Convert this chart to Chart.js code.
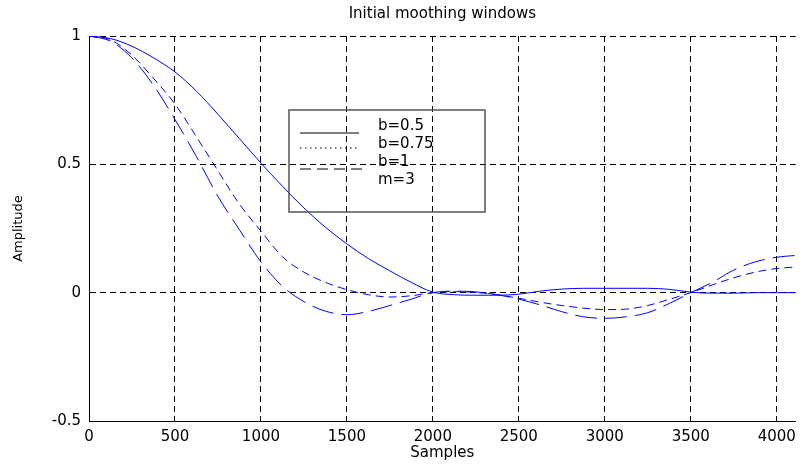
<!DOCTYPE html>
<html>
<head>
<meta charset="utf-8">
<script src="https://cdn.jsdelivr.net/npm/chart.js@4/dist/chart.umd.min.js"></script>
<style>
  html, body { margin: 0; padding: 0; background: #fff; }
</style>
</head>
<body>
<canvas id="windowsChart" width="803" height="466"></canvas>
<script>
// valeurs

const samples = [0, 125, 250, 375, 500, 625, 750, 875, 1000, 1125, 1250, 1375, 1500, 1625, 1750, 1875,
  2000, 2125, 2250, 2375, 2500, 2625, 2750, 2875, 3000, 3125, 3250, 3375, 3500, 3625, 3750, 3875, 4000, 4110];

const windowB05 = [1, 0.99, 0.96, 0.915, 0.86, 0.785, 0.695, 0.6, 0.505, 0.415, 0.33, 0.255, 0.19, 0.133, 0.085, 0.04,
  0.002, -0.008, -0.01, -0.01, -0.006, 0.006, 0.014, 0.017, 0.017, 0.017, 0.017, 0.013, 0.002, -0.002, -0.002, 0, 0, 0];

const windowB075 = [1, 0.985, 0.925, 0.835, 0.735, 0.607, 0.475, 0.345, 0.24, 0.14, 0.08, 0.04, 0.012, -0.008, -0.017, -0.012,
  0, 0.004, 0.001, -0.008, -0.022, -0.037, -0.05, -0.06, -0.066, -0.064, -0.05, -0.026, 0, 0.03, 0.058, 0.08, 0.094, 0.1];

const windowB1 = [1, 0.98, 0.914, 0.808, 0.675, 0.53, 0.375, 0.245, 0.12, 0.025, -0.035, -0.072, -0.086, -0.073, -0.05, -0.025,
  0, 0.006, 0.003, -0.008, -0.025, -0.048, -0.074, -0.094, -0.1, -0.094, -0.078, -0.042, 0, 0.04, 0.088, 0.12, 0.138, 0.145];

const seriesLabels = ["b=0.5", "b=0.75", "b=1"];
const legendExtra = "m=3";

const xTicks = [0, 500, 1000, 1500, 2000, 2500, 3000, 3500, 4000];
const yTicks = [-0.5, 0, 0.5, 1];

const toPoints = (values) => values.map((v, i) => ({ x: samples[i], y: v }));

const fontFamily = "'DejaVu Sans', 'Liberation Sans', Arial, sans-serif";

// légende dessinée dans le graphe, traits noirs comme sur la figure
const legendBox = {
  id: "legendBox",
  afterDatasetsDraw(chart) {
    const { ctx, chartArea } = chart;
    const left = chartArea.left + 200;
    const top = chartArea.top + 74;
    ctx.save();
    ctx.strokeStyle = "#555";
    ctx.lineWidth = 1.5;
    ctx.strokeRect(left, top, 196, 102);

    const styles = [
      { dash: [], y: 23, x2: 70 },
      { dash: [1.5, 3.5], y: 38, x2: 68 },
      { dash: [11, 6], y: 59, x2: 78 }
    ];
    ctx.strokeStyle = "#000";
    ctx.lineWidth = 1;
    styles.forEach((s) => {
      ctx.setLineDash(s.dash);
      ctx.beginPath();
      ctx.moveTo(left + 11, top + s.y);
      ctx.lineTo(left + s.x2, top + s.y);
      ctx.stroke();
    });
    ctx.setLineDash([]);

    ctx.fillStyle = "#000";
    ctx.font = "15px " + fontFamily;
    ctx.textBaseline = "middle";
    ctx.textAlign = "left";
    [...seriesLabels, legendExtra].forEach((txt, i) => {
      ctx.fillText(txt, left + 89, top + 16 + i * 18);
    });
    ctx.restore();
  }
};

const gridStyle = {
  color: "#000",
  lineWidth: 1,
  drawTicks: false
};

new Chart(document.getElementById("windowsChart"), {
  type: "line",
  data: {
    datasets: [
      { label: seriesLabels[0], data: toPoints(windowB05), borderDash: [] },
      { label: seriesLabels[1], data: toPoints(windowB075), borderDash: [8, 5] },
      { label: seriesLabels[2], data: toPoints(windowB1), borderDash: [22, 8] }
    ].map((d) => ({
      ...d,
      borderColor: "#0000ff",
      borderWidth: 1,
      pointRadius: 0,
      fill: false,
      cubicInterpolationMode: "monotone"
    }))
  },
  options: {
    responsive: false,
    animation: false,
    layout: { padding: { left: 0, right: 7, top: 0, bottom: 0 } },
    plugins: {
      legend: { display: false },
      tooltip: { enabled: false },
      title: {
        display: true,
        fullSize: false,
        text: "Initial moothing windows",
        color: "#000",
        font: { family: fontFamily, size: 15, weight: "normal" },
        padding: { top: 5, bottom: 13 }
      }
    },
    scales: {
      x: {
        type: "linear",
        min: 0,
        max: 4110,
        afterBuildTicks: (scale) => { scale.ticks = xTicks.map((v) => ({ value: v })); },
        afterFit: (scale) => { scale.height = 45; },
        ticks: {
          color: "#000",
          padding: 7,
          maxRotation: 0,
          font: { family: fontFamily, size: 15 },
          callback: (v) => String(v)
        },
        grid: gridStyle,
        border: { display: true, color: "#000", width: 1, dash: [6, 4] },
        title: {
          display: true,
          text: "Samples",
          color: "#000",
          font: { family: fontFamily, size: 15 },
          padding: { top: 0, bottom: 4 }
        }
      },
      y: {
        min: -0.5,
        max: 1,
        afterBuildTicks: (scale) => { scale.ticks = yTicks.map((v) => ({ value: v })); },
        afterFit: (scale) => { scale.width = 89; },
        ticks: {
          color: "#000",
          padding: 8,
          font: { family: fontFamily, size: 15 },
          callback: (v) => String(v)
        },
        grid: gridStyle,
        border: { display: true, color: "#000", width: 1, dash: [6, 4] },
        title: {
          display: true,
          text: "Amplitude",
          color: "#000",
          font: { family: fontFamily, size: 13 },
          padding: { top: 11, bottom: 0 }
        }
      }
    }
  },
  plugins: [legendBox]
});
</script>
</body>
</html>
